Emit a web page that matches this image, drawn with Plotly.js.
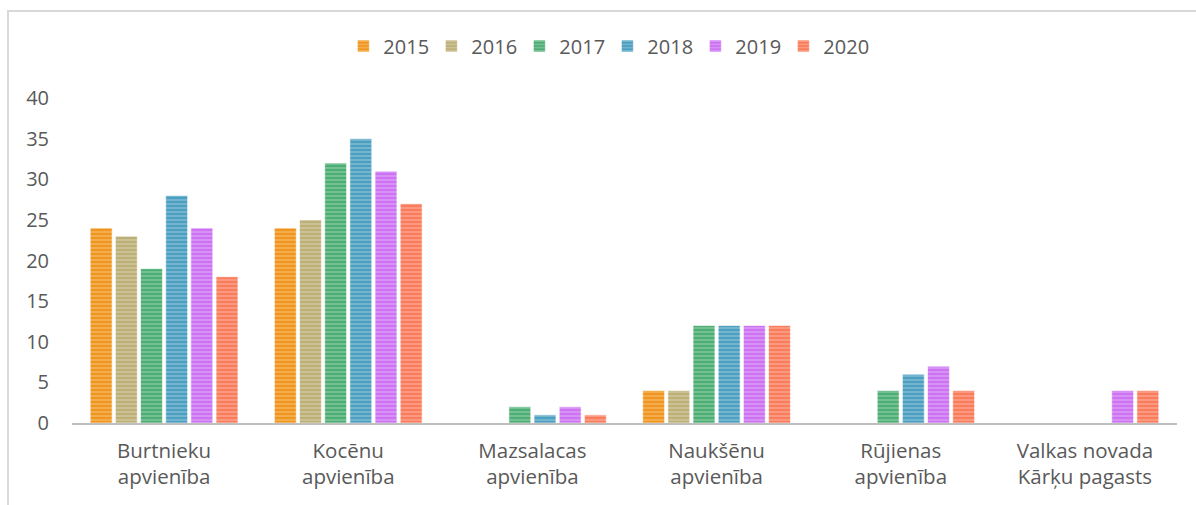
<!DOCTYPE html>
<html>
<head>
<meta charset="utf-8">
<script src="https://cdn.plot.ly/plotly-3.0.1.min.js"></script>
<style>
  html, body { margin: 0; padding: 0; background: #fff; overflow: hidden; }
  #frame { position: absolute; left: 7px; top: 10px; width: 1300px; height: 600px;
           border-top: 2px solid #d9d9d9; border-left: 2px solid #d9d9d9; box-sizing: border-box; }
  #chart { position: absolute; left: 0; top: 0; width: 1196px; height: 505px; }
</style>
</head>
<body>
<div id="frame"></div>
<div id="chart"></div>
<script>
const categories = [
  "Burtnieku<br>apvienība",
  "Kocēnu<br>apvienība",
  "Mazsalacas<br>apvienība",
  "Naukšēnu<br>apvienība",
  "Rūjienas<br>apvienība",
  "Valkas novada<br>Kārķu pagasts"
];
const years = ["2015", "2016", "2017", "2018", "2019", "2020"];
const v2015 = [24, 24, null, 4, null, null];
const v2016 = [23, 25, null, 4, null, null];
const v2017 = [19, 32, 2, 12, 4, null];
const v2018 = [28, 35, 1, 12, 6, null];
const v2019 = [24, 31, 2, 12, 7, 4];
const v2020 = [18, 27, 1, 12, 4, 4];
const seriesValues = [v2015, v2016, v2017, v2018, v2019, v2020];
const colors = ["#F0961E", "#BDB077", "#4DAE74", "#4C9FC0", "#CC72F2", "#F97C5C"];
const yTicks = [0, 5, 10, 15, 20, 25, 30, 35, 40];

const traces = years.map((y, i) => ({
  type: "bar",
  name: y,
  x: categories,
  y: seriesValues[i],
  marker: {
    color: colors[i],
    line: { color: "rgba(255,255,255,0.6)", width: 1 },
    pattern: { shape: "-", fillmode: "overlay", fgcolor: "rgba(255,255,255,0.55)", size: 4, solidity: 0.4 }
  },
  hoverinfo: "x+y+name"
}));

const fam = "'Open Sans', 'Noto Sans', sans-serif";
const tickFont = { family: fam, color: "#595959", size: 20 };
const catFont = { family: fam, color: "#595959", size: 20.5 };

const layout = {
  width: 1196, height: 505,
  margin: { l: 72, r: 19, t: 98, b: 82, pad: 0 },
  paper_bgcolor: "rgba(0,0,0,0)",
  plot_bgcolor: "rgba(0,0,0,0)",
  font: tickFont,
  barmode: "group",
  bargap: 0.18,
  bargroupgap: 0.13,
  showlegend: true,
  legend: {
    orientation: "h", x: 0.4845, xanchor: "center", y: 1.16, yanchor: "middle",
    entrywidth: 43, entrywidthmode: "pixels",
    font: { family: fam, color: "#595959", size: 20 },
    itemclick: false, traceorder: "normal"
  },
  xaxis: {
    type: "category",
    showgrid: false, zeroline: false,
    showline: true, linecolor: "#bfbfbf", linewidth: 2,
    ticks: "", tickfont: catFont, ticklabelstandoff: 8, automargin: false
  },
  yaxis: {
    range: [0, 40], tickvals: yTicks, ticktext: yTicks.map(String),
    showgrid: false, zeroline: false, showline: false,
    ticks: "", ticklabelstandoff: 22, tickfont: tickFont, automargin: false
  }
};

Plotly.newPlot("chart", traces, layout, { displayModeBar: false, staticPlot: true });
</script>
</body>
</html>
